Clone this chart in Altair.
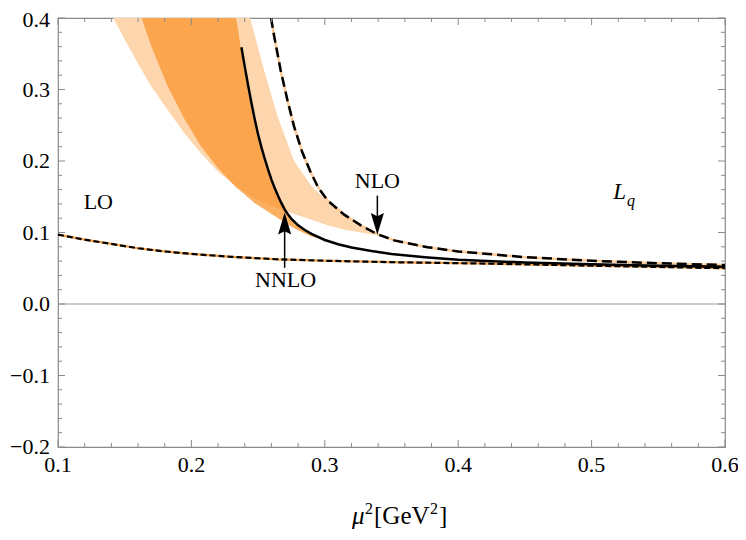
import altair as alt
import pandas as pd

# ---------------- data ----------------
lo_x = [0.10, 0.12, 0.14, 0.16, 0.18, 0.20, 0.23, 0.265, 0.30, 0.35, 0.414, 0.45, 0.50, 0.55, 0.60]
lo_y = [0.097, 0.090, 0.084, 0.078, 0.0735, 0.070, 0.066, 0.0625, 0.0605, 0.0585, 0.0567, 0.0555, 0.0535, 0.0518, 0.050]

nlo_x = [0.2597, 0.262, 0.267, 0.272, 0.277, 0.283, 0.289, 0.295, 0.302, 0.3145, 0.327, 0.339,
         0.352, 0.377, 0.400, 0.45, 0.50, 0.55, 0.60]
nlo_y = [0.400, 0.375, 0.326, 0.285, 0.248, 0.213, 0.186, 0.163, 0.145, 0.125, 0.110, 0.098,
         0.089, 0.0795, 0.0735, 0.0655, 0.0605, 0.057, 0.0545]

nnlo_x = [0.2375, 0.240, 0.2425, 0.245, 0.2475, 0.250, 0.2525, 0.255, 0.2575, 0.260, 0.2625, 0.265,
          0.2675, 0.270, 0.2725, 0.275, 0.280, 0.285, 0.290, 0.300, 0.310, 0.320, 0.335, 0.350,
          0.375, 0.400, 0.450, 0.500, 0.550, 0.600]
nnlo_y = [0.359, 0.332, 0.306, 0.281, 0.258, 0.237, 0.219, 0.203, 0.188, 0.174, 0.162, 0.151,
          0.141, 0.132, 0.125, 0.119, 0.110, 0.1035, 0.098, 0.0895, 0.0835, 0.079, 0.074, 0.070,
          0.0655, 0.062, 0.058, 0.0555, 0.0535, 0.052]

# light (NLO) band: lower edge / upper edge
nlo_band_x = [0.1414, 0.150, 0.160, 0.170, 0.182, 0.195, 0.208, 0.220, 0.232, 0.244, 0.2547,
              0.2647, 0.277, 0.290, 0.302, 0.315, 0.327, 0.339]
nlo_band_lo = [0.400, 0.370, 0.336, 0.304, 0.272, 0.238, 0.209, 0.185, 0.167, 0.151, 0.141,
               0.134, 0.126, 0.118, 0.110, 0.104, 0.100, 0.096]
nlo_band_hi = [0.400, 0.400, 0.400, 0.400, 0.400, 0.400, 0.400, 0.400, 0.400, 0.400, 0.326,
               0.262, 0.200, 0.165, 0.143, 0.124, 0.110, 0.098]

# dark (NNLO) band: lower edge / upper edge
nnlo_band_x = [0.1626, 0.170, 0.1825, 0.195, 0.2074, 0.220, 0.2335, 0.2355, 0.2375, 0.240, 0.2425,
               0.245, 0.2475, 0.250, 0.2525, 0.255, 0.2575, 0.260, 0.2625, 0.265, 0.2675, 0.270,
               0.275, 0.280, 0.285, 0.290, 0.295, 0.300]
nnlo_band_lo = [0.400, 0.360, 0.303, 0.258, 0.220, 0.190, 0.163, 0.160, 0.157, 0.153, 0.149,
                0.145, 0.141, 0.138, 0.135, 0.132, 0.129, 0.126, 0.123, 0.120, 0.117, 0.114,
                0.108, 0.103, 0.0985, 0.0945, 0.092, 0.0895]
nnlo_band_hi = [0.400, 0.400, 0.400, 0.400, 0.400, 0.400, 0.400, 0.378, 0.350, 0.322, 0.296,
                0.272, 0.250, 0.230, 0.212, 0.197, 0.183, 0.170, 0.158, 0.148, 0.139, 0.132,
                0.119, 0.110, 0.1035, 0.098, 0.0935, 0.0895]

x_major = [0.1, 0.2, 0.3, 0.4, 0.5, 0.6]
x_minor = [0.12, 0.14, 0.16, 0.18, 0.22, 0.24, 0.26, 0.28, 0.32, 0.34, 0.36, 0.38,
           0.42, 0.44, 0.46, 0.48, 0.52, 0.54, 0.56, 0.58]
y_major = [-0.2, -0.1, 0.0, 0.1, 0.2, 0.3]
y_top = [0.4]
y_minor = [-0.18, -0.16, -0.14, -0.12, -0.08, -0.06, -0.04, -0.02, 0.02, 0.04, 0.06, 0.08,
           0.12, 0.14, 0.16, 0.18, 0.22, 0.24, 0.26, 0.28, 0.32, 0.34, 0.36, 0.38]
x_tick_labels = ["0.1", "0.2", "0.3", "0.4", "0.5", "0.6"]
y_tick_labels = ["\u22120.2", "\u22120.1", "0.0", "0.1", "0.2", "0.3"]
y_top_label = ["0.4"]

label_text = ["LO", "NLO", "NNLO"]
label_x = [0.1302, 0.3394, 0.2706]
label_y = [0.142, 0.172, 0.034]

arrow_x = [0.2699, 0.3394]
arrow_tail = [0.0507, 0.1516]
arrow_neck = [0.111, 0.121]
arrow_head_y = [0.1125, 0.112]
arrow_shape = ["M0,-1L0.6,1L0,0.7L-0.6,1Z", "M0,1L0.6,-1L0,-0.7L-0.6,-1Z"]

W, H = 667, 429
FONT = "Liberation Serif"
LIGHT = "#FED6AE"
DARK = "#F9962F"
FRAME = "#8a8a8a"

xs = alt.Scale(domain=[0.1, 0.6], nice=False, zero=False)
ys = alt.Scale(domain=[-0.2, 0.4], nice=False, zero=False)


def XF(f="x"):
    return alt.X(f + ":Q", scale=xs, axis=None)


def YF(f="y"):
    return alt.Y(f + ":Q", scale=ys, axis=None)


lo_df = pd.DataFrame({"x": lo_x, "y": lo_y})
nlo_df = pd.DataFrame({"x": nlo_x, "y": nlo_y})
nnlo_df = pd.DataFrame({"x": nnlo_x, "y": nnlo_y})
nlo_band = pd.DataFrame({"x": nlo_band_x, "lo": nlo_band_lo, "hi": nlo_band_hi})
nnlo_band = pd.DataFrame({"x": nnlo_band_x, "lo": nnlo_band_lo, "hi": nnlo_band_hi})

light = alt.Chart(nlo_band).mark_area(color=LIGHT, opacity=1).encode(
    x=XF(), y=YF("lo"), y2="hi:Q")
dark = alt.Chart(nnlo_band).mark_area(color=DARK, opacity=0.75).encode(
    x=XF(), y=YF("lo"), y2="hi:Q")

zero = alt.Chart(pd.DataFrame({"y": [0.0]})).mark_rule(color="#999999", strokeWidth=1.2).encode(y=YF())

lo_under = alt.Chart(lo_df).mark_line(color="#F7A048", strokeWidth=2.2).encode(x=XF(), y=YF())
lo_line = alt.Chart(lo_df).mark_line(color="black", strokeWidth=2.2, strokeDash=[6, 3]).encode(x=XF(), y=YF())
nlo_under = alt.Chart(nlo_df).mark_line(color="#FDCB98", strokeWidth=2.5).encode(x=XF(), y=YF())
nlo_line = alt.Chart(nlo_df).mark_line(color="black", strokeWidth=2.5, strokeDash=[10, 5], clip=True).encode(x=XF(), y=YF())
nnlo_line = alt.Chart(nnlo_df).mark_line(color="black", strokeWidth=2.5, clip=True).encode(x=XF(), y=YF())


def xticks(vals, length, top):
    d = pd.DataFrame({"x": vals})
    if top:
        return alt.Chart(d).mark_rule(color=FRAME, strokeWidth=1).encode(
            x=XF(), y=alt.value(0), y2=alt.value(length))
    return alt.Chart(d).mark_rule(color=FRAME, strokeWidth=1).encode(
        x=XF(), y=alt.value(H), y2=alt.value(H - length))


def yticks(vals, length, right):
    d = pd.DataFrame({"y": vals})
    if right:
        return alt.Chart(d).mark_rule(color=FRAME, strokeWidth=1).encode(
            y=YF(), x=alt.value(W), x2=alt.value(W - length))
    return alt.Chart(d).mark_rule(color=FRAME, strokeWidth=1).encode(
        y=YF(), x=alt.value(0), x2=alt.value(length))


ticks = [xticks(x_major, 7, False), xticks(x_minor, 4, False),
         xticks(x_major, 7, True), xticks(x_minor, 4, True),
         yticks(y_major + y_top, 7, False), yticks(y_minor, 4, False),
         yticks(y_major + y_top, 7, True), yticks(y_minor, 4, True)]

# tick labels drawn as text marks through the scales
xlab = alt.Chart(pd.DataFrame({"x": x_major, "t": x_tick_labels})).mark_text(
    font=FONT, fontSize=22, color="black", align="center", baseline="middle"
).encode(x=XF(), y=alt.value(H + 18), text="t:N")
ylab = alt.Chart(pd.DataFrame({"y": y_major, "t": y_tick_labels})).mark_text(
    font=FONT, fontSize=22, color="black", align="right", baseline="middle"
).encode(y=YF(), x=alt.value(-8), text="t:N")
ylab_top = alt.Chart(pd.DataFrame({"y": y_top, "t": y_top_label})).mark_text(
    font=FONT, fontSize=22, color="black", align="right", baseline="middle", dy=2
).encode(y=YF(), x=alt.value(-8), text="t:N")

arr_df = pd.DataFrame({"x": arrow_x, "y": arrow_tail, "y2": arrow_neck, "hy": arrow_head_y})
shafts = alt.Chart(arr_df).mark_rule(color="black", strokeWidth=1.5).encode(
    x=XF(), y=YF(), y2="y2:Q")
heads = []
for i in range(len(arrow_x)):
    heads.append(alt.Chart(arr_df.iloc[[i]]).mark_point(
        shape=arrow_shape[i], filled=True, color="black", opacity=1, size=480, strokeWidth=0
    ).encode(x=XF(), y=YF("hy")))

lab_df = pd.DataFrame({"t": label_text, "x": label_x, "y": label_y})
labels = alt.Chart(lab_df).mark_text(font=FONT, fontSize=22, color="black", baseline="middle",
                                     align="center").encode(x=XF(), y=YF(), text="t:N")

lq_L = alt.Chart(pd.DataFrame({"t": ["L"], "x": [0.521], "y": [0.156]})).mark_text(
    font=FONT, fontSize=23, fontStyle="italic", color="black", baseline="middle",
    align="center").encode(x=XF(), y=YF(), text="t:N")
lq_q = alt.Chart(pd.DataFrame({"t": ["q"], "x": [0.5295], "y": [0.1445]})).mark_text(
    font=FONT, fontSize=16, fontStyle="italic", color="black", baseline="middle",
    align="center").encode(x=XF(), y=YF(), text="t:N")

# x-axis title  mu^2 [GeV^2]
TB = H + 77


def ttext(t, px, py, size, italic=False):
    kw = dict(font=FONT, fontSize=size, color="black", align="left", baseline="alphabetic")
    if italic:
        kw["fontStyle"] = "italic"
    return alt.Chart(pd.DataFrame({"t": [t]})).mark_text(**kw).encode(
        x=alt.value(px), y=alt.value(py), text="t:N")


title_parts = [
    ttext("μ", 294, TB, 25, italic=True),
    ttext("2", 307, TB - 10, 16),
    ttext("[GeV", 316, TB, 25),
    ttext("2", 372, TB - 10, 16),
    ttext("]", 381, TB, 25),
]

chart = alt.layer(
    light, dark, zero, lo_under, lo_line, nlo_under, nnlo_line, nlo_line,
    *ticks, xlab, ylab, ylab_top, shafts, *heads, labels, lq_L, lq_q, *title_parts
).properties(
    width=W, height=H,
    autosize=alt.AutoSizeParams(type="none"),
    padding={"left": 50, "top": 10, "right": 13, "bottom": 85},
).configure_view(stroke=FRAME, strokeWidth=1.2)

chart.save("out.html", embed_options={"renderer": "svg", "actions": False})
